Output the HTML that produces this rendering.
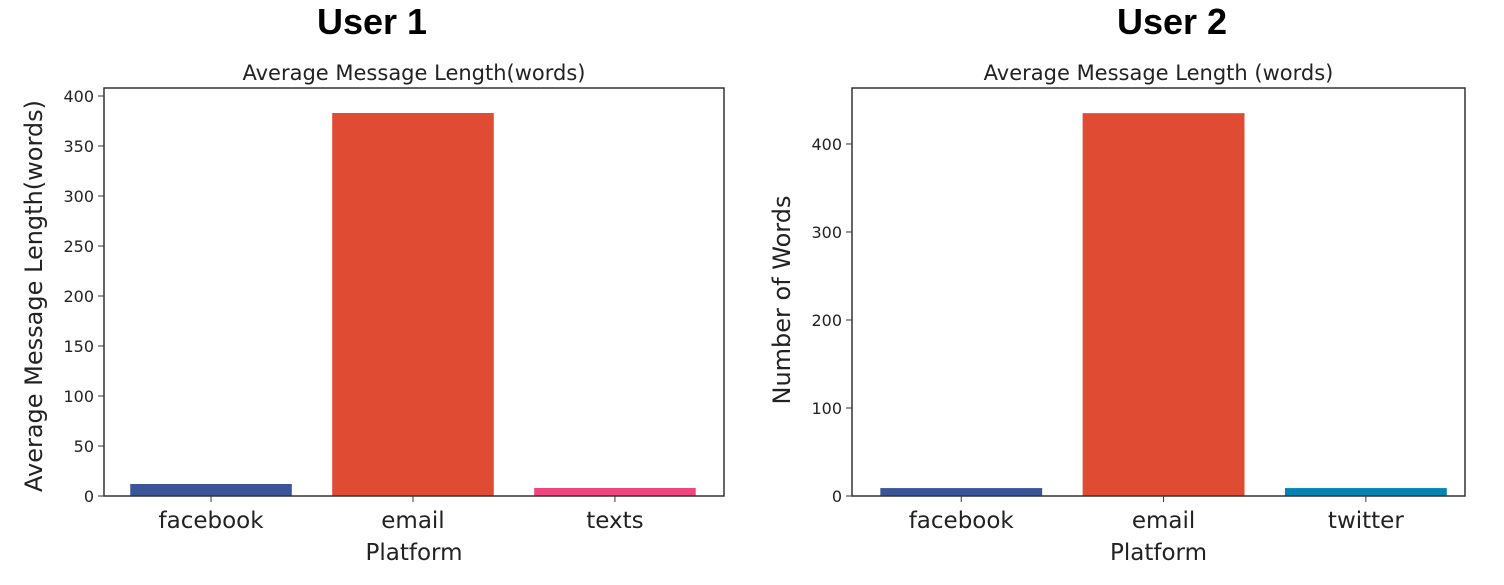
<!DOCTYPE html>
<html><head><meta charset="utf-8"><style>
body{margin:0;background:#fff;}
svg{display:block;font-family:"DejaVu Sans","Liberation Sans",sans-serif;}
</style></head><body>
<svg id="c" width="1504" height="585" viewBox="0 0 1504 585">
<text x="372" y="34" text-anchor="middle" font-family="Liberation Sans, sans-serif" font-weight="bold" font-size="36">User 1</text>
<text x="1172" y="34" text-anchor="middle" font-family="Liberation Sans, sans-serif" font-weight="bold" font-size="36">User 2</text>
</svg>
<script>
const cats1=["facebook","email","texts"];
const vals1=[12,383,8];
const ticks1=[0,50,100,150,200,250,300,350,400];
const cats2=["facebook","email","twitter"];
const vals2=[9,435,9];
const ticks2=[0,100,200,300,400];
const colors1=["#3a5699","#df4b33","#f0457f"];
const colors2=["#3a5699","#df4b33","#0084b4"];
const NS="http://www.w3.org/2000/svg";
const svg=document.getElementById('c');
function mk(t,a,txt){const e=document.createElementNS(NS,t);for(const k in a)e.setAttribute(k,a[k]);if(txt!==undefined)e.textContent=txt;svg.appendChild(e);return e;}
function chart(cfg){
  const {L,R,T,B,ymax,xmin,xmax,cats,vals,ticks,colors,title,ylabel,id}=cfg;
  const x=i=>L+(i-xmin)/(xmax-xmin)*(R-L);
  const bw=0.8*(R-L)/(xmax-xmin);
  const y=v=>B-(v/ymax)*(B-T);
  let e=mk('text',{x:(L+R)/2,y:T-8,'text-anchor':'middle','font-size':21,fill:'#222'},title);
  
  
  vals.forEach((v,i)=>{
    const r=mk('rect',{x:x(i)-bw/2,y:y(v),width:bw,height:B-y(v),fill:colors[i]});
    
    
    const t=mk('line',{x1:x(i),x2:x(i),y1:B,y2:B+6,stroke:'#333'});
    
    
    const l=mk('text',{x:x(i),y:B+32,'text-anchor':'middle','font-size':23,fill:'#222'},cats[i]);
    
    
  });
  ticks.forEach(tv=>{
    const t=mk('line',{x1:L-6,x2:L,y1:y(tv),y2:y(tv),stroke:'#333'});
    
    
    const l=mk('text',{x:L-10,y:y(tv)+6,'text-anchor':'end','font-size':16,fill:'#222'},String(tv));
    
    
  });
  const f=mk('rect',{x:L,y:T,width:R-L,height:B-T,fill:'none',stroke:'#333','stroke-width':1.5});
  
  
  const xl=mk('text',{x:(L+R)/2,y:B+64,'text-anchor':'middle','font-size':23,fill:'#222'},'Platform');
  
  
  const yl=mk('text',{x:0,y:0,'text-anchor':'middle','font-size':cfg.ylfs,fill:'#222',transform:`translate(${cfg.ylx},${cfg.yly}) rotate(-90)`},ylabel);
  
  
}
chart({L:104,R:724,T:88,B:496,ymax:408,xmin:-0.53,xmax:2.54,cats:cats1,vals:vals1,ticks:ticks1,colors:colors1,title:'Average Message Length(words)',ylabel:'Average Message Length(words)',id:'user1',ylx:42,yly:296,ylfs:24});
chart({L:852,R:1465,T:88,B:496,ymax:463.6,xmin:-0.54,xmax:2.49,cats:cats2,vals:vals2,ticks:ticks2,colors:colors2,title:'Average Message Length (words)',ylabel:'Number of Words',id:'user2',ylx:790,yly:300,ylfs:24});
</script>
</body></html>
